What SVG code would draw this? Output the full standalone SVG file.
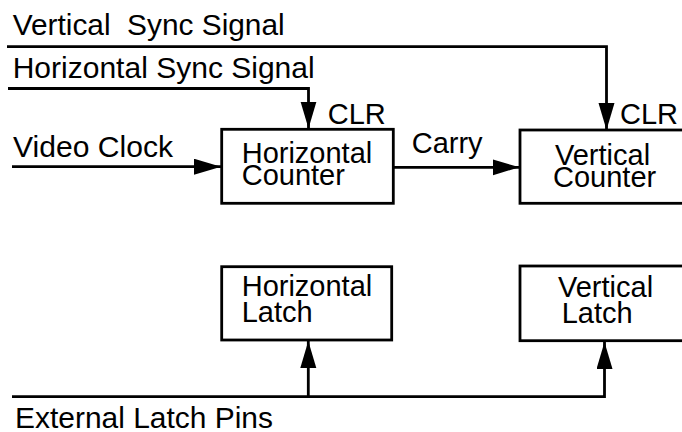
<svg xmlns="http://www.w3.org/2000/svg" width="682" height="432" viewBox="0 0 682 432">
<style>
text{font-family:"Liberation Sans",Arial,Helvetica,sans-serif;font-size:29px;fill:#000}
.box{fill:#fff;stroke:#000;stroke-width:2.8}
.wire{fill:none;stroke:#000;stroke-width:2.8;stroke-linejoin:miter}
</style>
<defs>
<marker id="ah" markerUnits="userSpaceOnUse" markerWidth="28" markerHeight="18" refX="27" refY="8" orient="auto">
<path d="M0,0 L27,8 L0,16 Z" fill="#000"/>
</marker>
</defs>
<g id="connectors">
<path class="wire" d="M7,46.7 H606.5 V130" marker-end="url(#ah)"/>
<path class="wire" d="M8,88.5 H308.5 V128.5" marker-end="url(#ah)"/>
<path class="wire" d="M12,166.7 H221" marker-end="url(#ah)"/>
<path class="wire" d="M393,167.3 H519.5" marker-end="url(#ah)"/>
<path class="wire" d="M12,396.7 H604.5 V342" marker-end="url(#ah)"/>
<path class="wire" d="M308.3,396.7 V341" marker-end="url(#ah)"/>
</g>
<g id="labels">
<text x="12.7" y="35" xml:space="preserve" textLength="272" lengthAdjust="spacingAndGlyphs">Vertical  Sync Signal</text>
<text x="12.7" y="78" textLength="302" lengthAdjust="spacingAndGlyphs">Horizontal Sync Signal</text>
<text x="13" y="157" textLength="160" lengthAdjust="spacingAndGlyphs">Video Clock</text>
<text x="411.7" y="153">Carry</text>
<text x="327.7" y="124">CLR</text>
<text x="620" y="124">CLR</text>
<text x="15" y="428" textLength="258" lengthAdjust="spacingAndGlyphs">External Latch Pins</text>
</g>
<g id="horizontal-counter">
<rect class="box" x="221.7" y="129.3" width="171.6" height="74"/>
<text x="241.7" y="163">Horizontal</text>
<text x="241.7" y="185">Counter</text>
</g>
<g id="vertical-counter">
<rect class="box" x="520" y="130" width="180" height="73.3"/>
<text x="555" y="165">Vertical</text>
<text x="553" y="186.5">Counter</text>
</g>
<g id="horizontal-latch">
<rect class="box" x="221.7" y="266.7" width="170" height="73.3"/>
<text x="241.7" y="296">Horizontal</text>
<text x="241.7" y="322">Latch</text>
</g>
<g id="vertical-latch">
<rect class="box" x="520" y="266" width="180" height="74.7"/>
<text x="558" y="297">Vertical</text>
<text x="561.7" y="323">Latch</text>
</g>
</svg>
